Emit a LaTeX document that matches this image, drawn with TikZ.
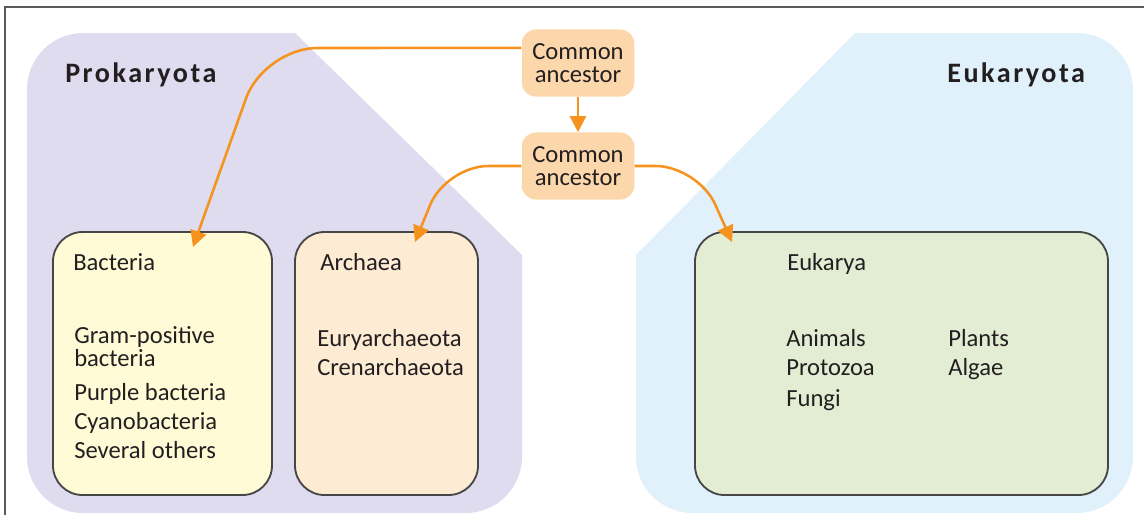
\documentclass[tikz,border=0pt]{standalone}
\usepackage{fontspec}
\setmainfont{Carlito}
\newfontfamily\headfont[LetterSpace=9]{Carlito}
\usetikzlibrary{arrows.meta,fit}

\definecolor{txt}{RGB}{35,31,32}
\definecolor{framec}{RGB}{90,90,90}
\definecolor{edge}{RGB}{70,70,70}
\definecolor{prokfill}{RGB}{222,220,238}
\definecolor{eukfill}{RGB}{224,241,252}
\definecolor{ancfill}{RGB}{253,215,172}
\definecolor{arrowc}{RGB}{246,146,30}
\definecolor{bactfill}{RGB}{255,251,214}
\definecolor{archfill}{RGB}{253,235,211}
\definecolor{eukafill}{RGB}{227,237,211}

\begin{document}
\begin{tikzpicture}[x=0.025cm, y=-0.025cm,
	every node/.style={text=txt, font=\fontsize{17.5}{20}\selectfont},
	taxon/.style={draw=edge, line width=1.3pt, rounded corners=21pt, inner sep=0pt},
	ancestor/.style={fill=ancfill, rounded corners=10pt, minimum width=80pt, minimum height=47.7pt,
		inner sep=0pt, align=center, font=\fontsize{17.5}{16.4}\selectfont},
	heading/.style={anchor=base west, inner sep=0pt, font=\headfont\bfseries\fontsize{20}{24}\selectfont},
	item/.style={anchor=base west, inner sep=0pt},
	link/.style={draw=arrowc, line width=1.8pt, -{Triangle[length=11.5pt,width=11.5pt]}}
]

	\useasboundingbox (0,0) rectangle (1144,515);

	% frame
	\draw [framec, line width=1.5pt] (5,515) -- (5,7) -- (1144,7);

	% the two groups
	\fill [prokfill] (27,300) [rounded corners=40] -- (27,33) [sharp corners] -- (295,33) -- (522,255)
		[rounded corners=40] -- (522,513) -- (27,513) -- cycle;
	\fill [eukfill] (636,300) [sharp corners] -- (636,255) -- (855,33) [rounded corners=40] -- (1133,33)
		-- (1133,513) -- (636,513) -- cycle;

	\node [heading] (prok) at (65,82) {Prokaryota};
	\node [heading] (euk) at (947,82) {Eukaryota};

	% ancestors
	\node [ancestor] (ca1) at (578,63) {Common\\ancestor};
	\node [ancestor] (ca2) at (578,166) {Common\\ancestor};

	% domains
	\node [taxon, fill=bactfill, fit={(53,232) (272,495)}] (bact) {};
	\node [taxon, fill=archfill, fit={(295,232) (478,495)}] (arch) {};
	\node [taxon, fill=eukafill, fit={(695,232) (1108,495)}] (euka) {};

	\node [item] (bactname) at (73,270) {Bacteria};
	\node [item, align=left, font=\fontsize{17.5}{13.8}\selectfont] (gram) at (74,366) {Gram-positive\\bacteria};
	\node [item] (purple) at (74,400) {Purple bacteria};
	\node [item] (cyano) at (74,429) {Cyanobacteria};
	\node [item] (others) at (74,458) {Several others};

	\node [item] (archname) at (320,270) {Archaea};
	\node [item] (eury) at (317,346) {Euryarchaeota};
	\node [item] (cren) at (317,375) {Crenarchaeota};

	\node [item] (eukaname) at (787,270) {Eukarya};
	\node [item] (animals) at (786,346) {Animals};
	\node [item] (protozoa) at (786,375) {Protozoa};
	\node [item] (fungi) at (786,406) {Fungi};
	\node [item] (plants) at (948,346) {Plants};
	\node [item] (algae) at (948,375) {Algae};

	% arrows
	\coordinate (bend1) at (264,48);
	\coordinate (tip1) at (193,247);
	\coordinate (bend2) at (446,166);
	\coordinate (tip2) at (415,242);
	\coordinate (bend3) at (698,166);
	\coordinate (tip3) at (732,242);

	\draw [link] (ca1) -- (ca2);
	\draw [link, rounded corners=38] ([yshift=10.7pt]ca1.west) -- (bend1) -- (tip1);
	\draw [link, rounded corners=30] (ca2.west) -- (bend2) -- (tip2);
	\draw [link, rounded corners=30] (ca2.east) -- (bend3) -- (tip3);

\end{tikzpicture}
\end{document}
